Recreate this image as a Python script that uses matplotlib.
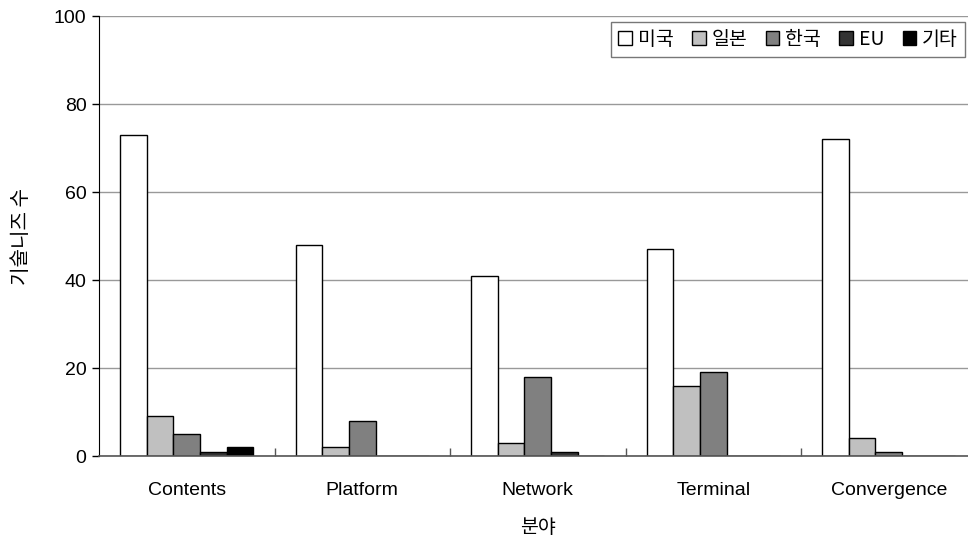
import numpy as np
import matplotlib.pyplot as plt
from matplotlib.patches import Patch

plt.rcParams['font.family'] = ['Liberation Sans', 'Noto Sans CJK KR', 'DejaVu Sans']

# 분야별 / 국가별 기술니즈 수
fields = ["Contents", "Platform", "Network", "Terminal", "Convergence"]
countries = ["미국", "일본", "한국", "EU", "기타"]
usa = [73, 48, 41, 47, 72]
japan = [9, 2, 3, 16, 4]
korea = [5, 8, 18, 19, 1]
eu = [1, 0, 1, 0, 0]
etc = [2, 0, 0, 0, 0]
series = [usa, japan, korea, eu, etc]
colors = ["#FFFFFF", "#C0C0C0", "#808080", "#333333", "#000000"]

fig = plt.figure(figsize=(9.68, 5.37), dpi=100)
ax = fig.add_axes([0.1023, 0.1508, 0.9065, 0.8194])

x = np.arange(len(fields))
w = 0.152
for i, (vals, c) in enumerate(zip(series, colors)):
    pos = x - 2 * w + i * w
    ax.bar(pos, vals, width=w, color=c, edgecolor="black", linewidth=1.0, zorder=3)

ax.set_xlim(-0.5, len(fields) - 0.5)
ax.set_ylim(0, 100)
ax.set_yticks(np.arange(0, 101, 20))
ax.yaxis.grid(True, color="#999999", linewidth=1.0, zorder=0)
ax.tick_params(axis="y", labelsize=14, length=5, width=1, direction="out", pad=4)

# separators between categories as minor ticks, labels on major positions
ax.set_xticks(x)
ax.set_xticklabels(fields, fontsize=14)
ax.tick_params(axis="x", which="major", length=0, pad=19)
ax.set_xticks(np.arange(0.5, len(fields) - 0.5, 1), minor=True)
ax.tick_params(axis="x", which="minor", length=6, width=1, direction="in", color="#555555")

for s in ["top", "right"]:
    ax.spines[s].set_visible(False)
ax.spines["left"].set_color("black")
ax.spines["bottom"].set_color("#555555")
ax.spines["bottom"].set_linewidth(1.2)
ax.spines["bottom"].set_zorder(4)

ax.set_ylabel("기술니즈 수", fontsize=14.5, labelpad=16, family=['Noto Sans CJK KR'])
ax.set_xlabel("분야", fontsize=14, labelpad=13, family=['Noto Sans CJK KR'])

handles = [Patch(facecolor=c, edgecolor="black", linewidth=1.0) for c in colors]
leg = ax.legend(handles, countries, ncol=5, loc="upper right",
                bbox_to_anchor=(0.9865, 0.986),
                prop={'family': ['Noto Sans CJK KR', 'Liberation Sans'], 'size': 14},
                handlelength=0.7, handleheight=0.7, handletextpad=0.3,
                columnspacing=0.95, borderpad=0.35, fancybox=False,
                framealpha=1, edgecolor="#777777", borderaxespad=0)
leg.get_frame().set_linewidth(1.0)

fig.savefig("out.png", dpi=100)
